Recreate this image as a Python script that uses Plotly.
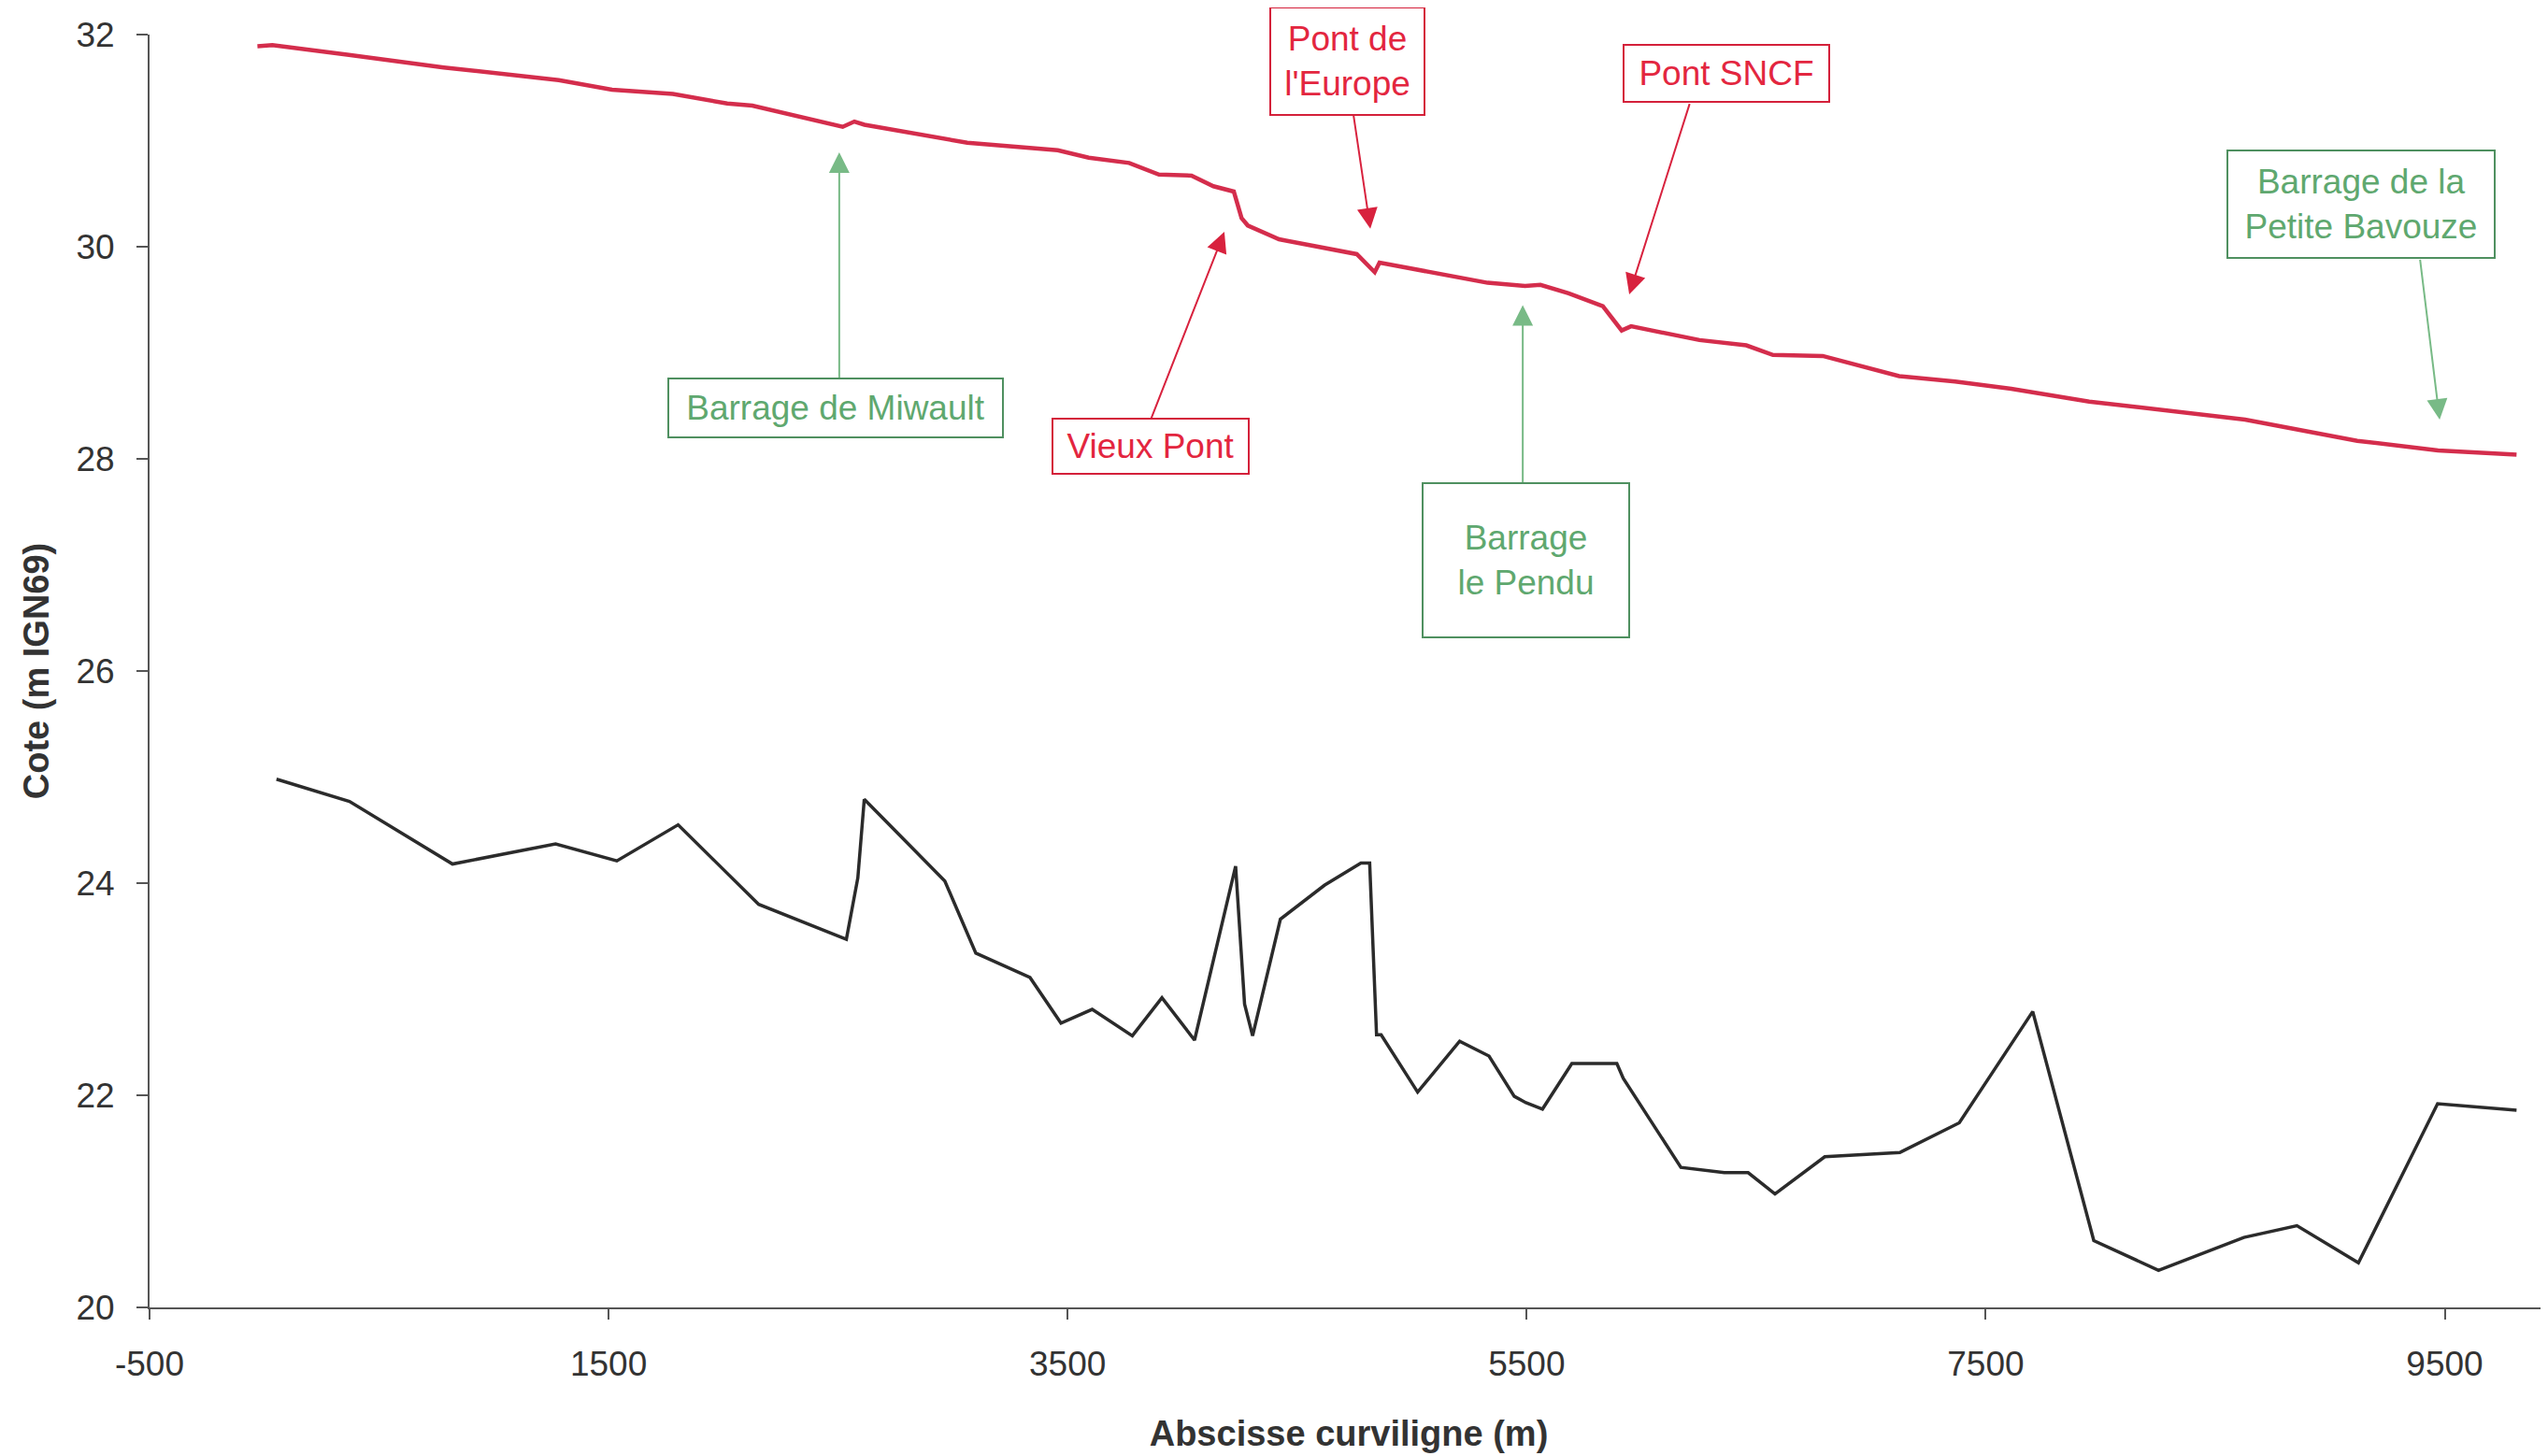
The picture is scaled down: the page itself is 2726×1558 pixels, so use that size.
import plotly.graph_objects as go

# Water surface profile (red line)
water_x = [-30, 35, 361, 782, 1283, 1515, 1780, 2017, 2126, 2520,
           2571, 2615, 3063, 3457, 3592, 3768, 3898, 4040, 4135, 4224,
           4258, 4285, 4421, 4760, 4838, 4859, 5330, 5493, 5560, 5683,
           5832, 5914, 5955, 6253, 6457, 6573, 6790, 7123, 7367, 7611,
           7951, 8372, 8630, 9119, 9471, 9813]
water_y = [31.89, 31.90, 31.81, 31.69, 31.57, 31.48, 31.44, 31.35, 31.33, 31.13,
           31.18, 31.15, 30.98, 30.91, 30.84, 30.79, 30.68, 30.67, 30.57, 30.52,
           30.27, 30.20, 30.07, 29.93, 29.76, 29.85, 29.66, 29.63, 29.64, 29.56,
           29.44, 29.21, 29.25, 29.12, 29.07, 28.98, 28.97, 28.78, 28.73, 28.66,
           28.54, 28.43, 28.37, 28.17, 28.08, 28.04]

# River bed profile (black line)
bed_x = [53, 371, 820, 1269, 1536, 1803, 2154, 2536, 2586, 2614,
         2965, 3100, 3336, 3471, 3607, 3782, 3911, 4053, 4232, 4271,
         4306, 4427, 4619, 4778, 4816, 4846, 4866, 5025, 5208, 5336,
         5446, 5497, 5569, 5697, 5893, 5921, 6172, 6361, 6465, 6582,
         6799, 7126, 7385, 7705, 7971, 8253, 8625, 8856, 9124, 9469,
         9813]
bed_y = [24.98, 24.77, 24.18, 24.37, 24.21, 24.55, 23.80, 23.47, 24.05, 24.79,
         24.02, 23.34, 23.11, 22.68, 22.81, 22.56, 22.92, 22.52, 24.16, 22.86,
         22.56, 23.66, 23.98, 24.19, 24.19, 22.57, 22.57, 22.03, 22.51, 22.37,
         21.99, 21.93, 21.87, 22.30, 22.30, 22.16, 21.32, 21.27, 21.27, 21.07,
         21.42, 21.46, 21.74, 22.79, 20.63, 20.35, 20.66, 20.77, 20.42, 21.92,
         21.86]

x_ticks = [-500, 1500, 3500, 5500, 7500, 9500]
y_ticks = [20, 22, 24, 26, 28, 30, 32]

# Labels: text, box centre (data), box size, arrow tail, arrow tip, kind
labels = [
    ("Pont de<br>l'Europe", 4719, 31.75, 163, 113, (4745, 31.25), (4819, 30.17), "red"),
    ("Pont SNCF", 6370, 31.63, 218, 59, (6212, 31.36), (5947, 29.55), "red"),
    ("Vieux Pont", 3862, 28.12, 208, 57, (3862, 28.37), (4183, 30.14), "red"),
    ("Barrage de Miwault", 2489, 28.48, 356, 61, (2505, 28.75), (2505, 30.89), "green"),
    ("Barrage<br>le Pendu", 5497, 27.04, 219, 163, (5483, 27.76), (5483, 29.45), "green"),
    ("Barrage de la<br>Petite Bavouze", 9136, 30.40, 284, 113, (9392, 29.89), (9478, 28.37), "green"),
]
styles = {
    "red": dict(text="#e3263f", border="#d4203a", arrow="#d8223e"),
    "green": dict(text="#5fa86f", border="#4f9060", arrow="#78ba86"),
}

FONT = "Liberation Sans, Arial, sans-serif"

fig = go.Figure()
fig.add_trace(go.Scatter(x=bed_x, y=bed_y, mode="lines",
                         line=dict(color="#2b2b2b", width=3.5), showlegend=False))
fig.add_trace(go.Scatter(x=water_x, y=water_y, mode="lines",
                         line=dict(color="#d42d4c", width=4.5), showlegend=False))

annotations = []
for text, cx, cy, w, h, tail, tip, kind in labels:
    st = styles[kind]
    annotations.append(dict(
        x=tip[0], y=tip[1], ax=tail[0], ay=tail[1],
        xref="x", yref="y", axref="x", ayref="y",
        text="", showarrow=True, arrowhead=2, arrowsize=2.2, arrowwidth=2,
        arrowcolor=st["arrow"], standoff=0, startstandoff=0))
for text, cx, cy, w, h, tail, tip, kind in labels:
    st = styles[kind]
    annotations.append(dict(
        x=cx, y=cy, xref="x", yref="y", text=text, showarrow=False,
        width=w, height=h, bordercolor=st["border"], borderwidth=2, borderpad=0,
        bgcolor="white", align="center", valign="middle",
        font=dict(family=FONT, size=37, color=st["text"])))

fig.update_layout(
    width=2726, height=1558,
    margin=dict(l=152, r=8, t=29, b=167),
    paper_bgcolor="white", plot_bgcolor="white",
    font=dict(family=FONT, color="#333333"),
    showlegend=False,
    annotations=annotations,
    xaxis=dict(
        range=[-500, 9950], tickvals=x_ticks, ticktext=[str(v) for v in x_ticks],
        ticks="outside", ticklen=11, tickwidth=1.5, tickcolor="#555555",
        showline=True, linecolor="#555555", linewidth=2,
        showgrid=False, zeroline=False,
        tickfont=dict(family=FONT, size=37, color="#333333"),
        ticklabelstandoff=16,
        title=dict(text="Abscisse curviligne (m)", standoff=41,
                   font=dict(family=FONT, size=38, color="#333333", weight="bold")),
    ),
    yaxis=dict(
        range=[20, 32], tickvals=y_ticks, ticktext=[str(v) for v in y_ticks],
        ticks="outside", ticklen=12, tickwidth=1.5, tickcolor="#555555",
        showline=True, linecolor="#555555", linewidth=2,
        showgrid=False, zeroline=False,
        tickfont=dict(family=FONT, size=37, color="#333333"),
        ticklabelstandoff=16,
        title=dict(text="Cote (m IGN69)", standoff=17,
                   font=dict(family=FONT, size=38, color="#333333", weight="bold")),
    ),
)

fig.write_html("out.html")
